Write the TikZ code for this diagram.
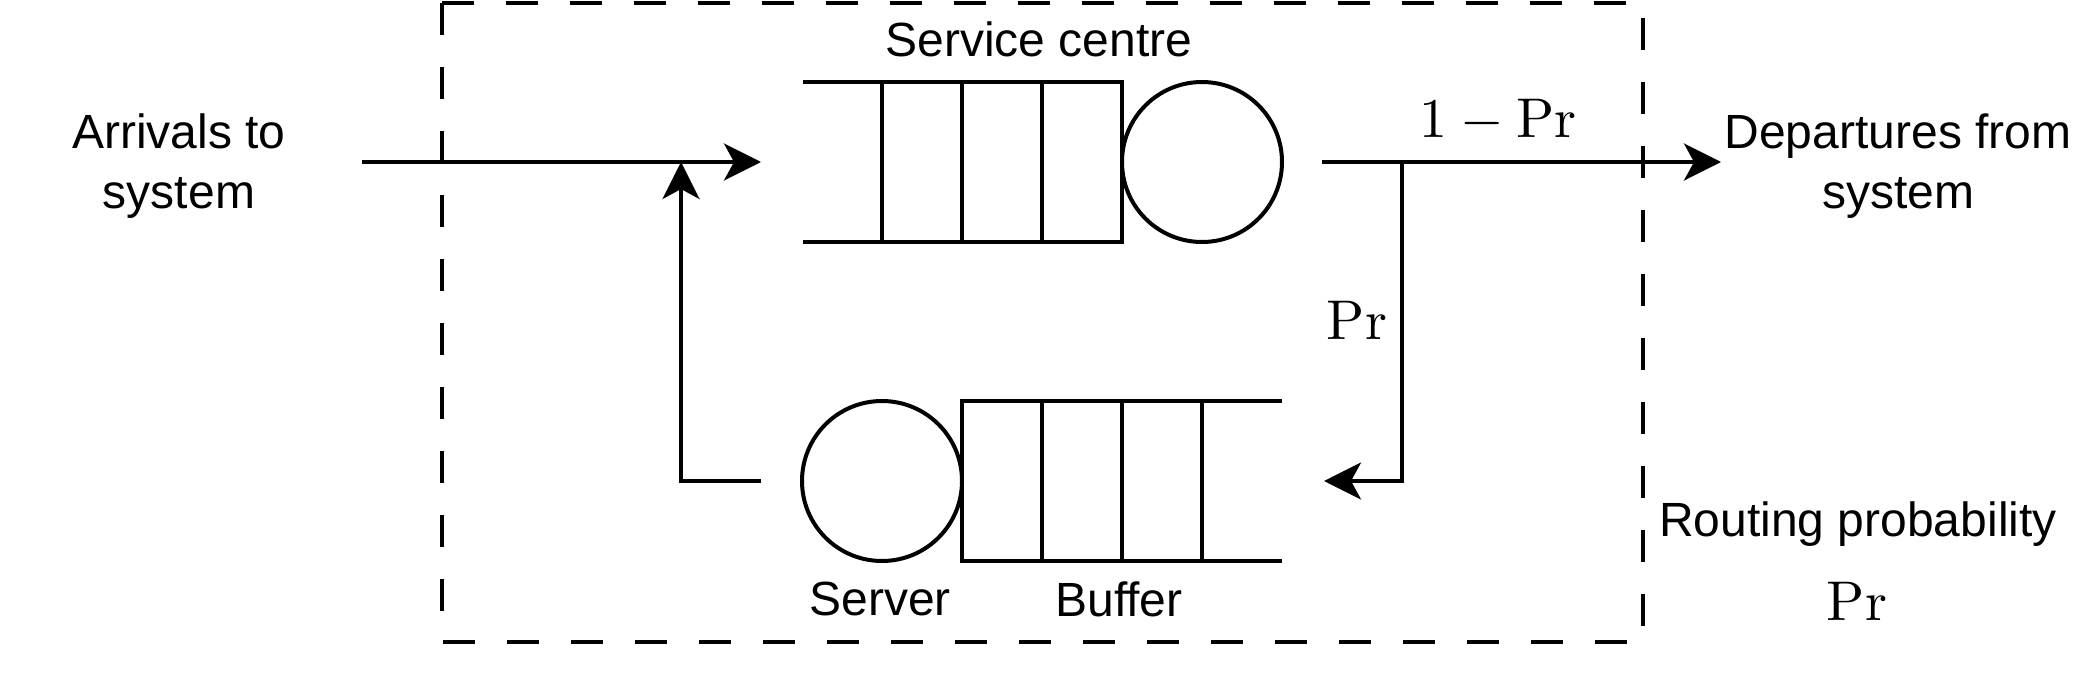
\documentclass[tikz,border=0pt]{standalone}
\usepackage[no-math]{fontspec}
\setmainfont{Liberation Sans}
\usetikzlibrary{arrows.meta, positioning}

\newcommand{\bigmath}[1]{\scalebox{2.8}{$#1$}}

\begin{document}
\begin{tikzpicture}[x=0.5pt, y=-0.5pt]
    \tikzset{
        cell/.style = {rectangle, draw, line width=2pt, minimum width=40pt, minimum height=80pt, inner sep=0pt, outer sep=0pt},
        server/.style = {circle, draw, line width=2pt, minimum size=80pt, inner sep=0pt, outer sep=0pt},
        txt/.style = {font=\fontsize{24}{30}\selectfont, align=center},
        prob/.style = {inner sep=0pt},
        line/.style = {draw, line width=2pt, -{Stealth[length=18.5pt, width=18.5pt, inset=5pt]}},
        open/.style = {draw, line width=2pt},
        border/.style = {draw, line width=2pt, dash pattern=on 16pt off 16pt},
    }
    \useasboundingbox (0,0) rectangle (2084,680);

    \path [border] (442,3) rectangle (1643,642);

    % upper queue
    \foreach \x [count=\i] in {922,1002,1082}
        \node[cell] (top\i) at (\x,162) {};
    \node[server] (topsrv) at (1202,162) {};
    \path [open] (top1.north west) -- ++(-79,0);
    \path [open] (top1.south west) -- ++(-79,0);

    % lower queue
    \node[server] (botsrv) at (882,481) {};
    \foreach \x [count=\i] in {1002,1082,1162}
        \node[cell] (bot\i) at (\x,481) {};
    \path [open] (bot3.north east) -- ++(80,0);
    \path [open] (bot3.south east) -- ++(80,0);

    \node[txt] (arrivals) at (179,166) {Arrivals to\\system};
    \node[txt] (departures) at (1898,166) {Departures from\\system};
    \node[txt] (centre) at (1039,39) {Service centre};
    \node[txt] (serverlbl) at (880,599) {Server};
    \node[txt] (bufferlbl) at (1119,599) {Buffer};
    \node[txt] (routing) at (1858,524) {Routing probability};
    \node[prob] (prkey) at (1857,601) {\bigmath{\mathrm{Pr}}};
    \node[prob] (stay) at (1498,121) {\bigmath{1-\mathrm{Pr}}};
    \node[prob] (back) at (1357,320) {\bigmath{\mathrm{Pr}}};

    \coordinate (in) at (362,162);
    \coordinate (qin) at (761,162);
    \coordinate (join) at (681,162);
    \coordinate (fbout) at (761,481);
    \coordinate (out) at (1322,162);
    \coordinate (split) at (1402,162);
    \coordinate (exit) at (1721,162);
    \coordinate (fbin) at (1324,481);

    \path [line] (in) -- (qin);
    \path [line] (fbout) -| (join);
    \path [line] (out) -- (exit);
    \path [line] (split) |- (fbin);

\end{tikzpicture}
\end{document}
